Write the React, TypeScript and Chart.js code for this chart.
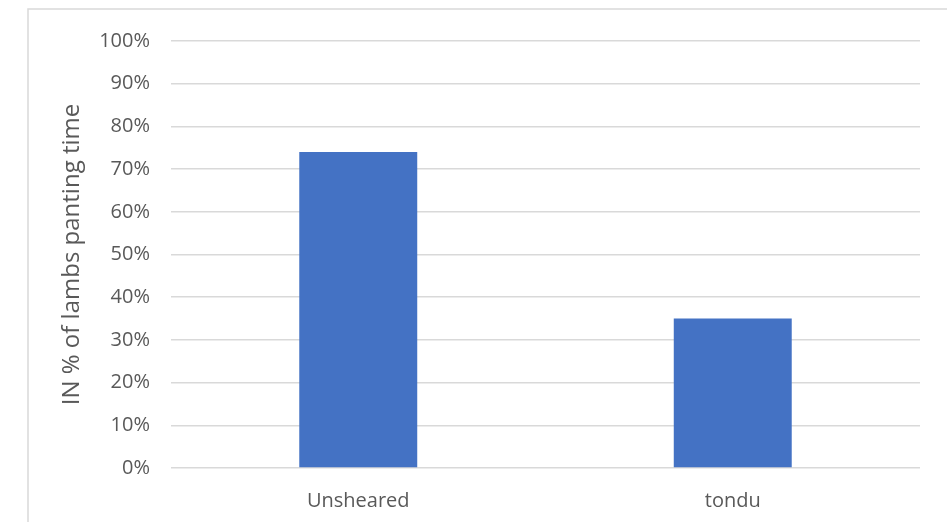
import React, { useEffect, useRef } from "react";
import { Chart, registerables } from "chart.js";

Chart.register(...registerables);

const categories = ["Unsheared", "tondu"];
const pantingShare = [74, 35];
const yTicks = [0, 10, 20, 30, 40, 50, 60, 70, 80, 90, 100];
const yTitle = "IN % of lambs panting time";

const FONT = "'Open Sans', 'Liberation Sans', sans-serif";
const TEXT = "#595959";
const GRID = "#d9d9d9";

// Light frame around the chart object (its right and bottom edges fall off the canvas)
const framePlugin = {
  id: "frame",
  beforeDraw(chart: Chart) {
    const { ctx } = chart;
    ctx.save();
    ctx.fillStyle = "#ffffff";
    ctx.fillRect(0, 0, chart.width, chart.height);
    ctx.strokeStyle = GRID;
    ctx.lineWidth = 1.5;
    ctx.beginPath();
    ctx.moveTo(28, chart.height + 5);
    ctx.lineTo(28, 9);
    ctx.lineTo(chart.width + 5, 9);
    ctx.stroke();
    ctx.restore();
  },
};

export default function App() {
  const canvasRef = useRef<HTMLCanvasElement | null>(null);

  useEffect(() => {
    if (!canvasRef.current) return;
    const chart = new Chart(canvasRef.current, {
      type: "bar",
      data: {
        labels: categories,
        datasets: [
          {
            data: pantingShare,
            backgroundColor: "#4472C4",
            borderWidth: 0,
            categoryPercentage: 1,
            barPercentage: 0.315,
          },
        ],
      },
      options: {
        animation: false,
        responsive: false,
        maintainAspectRatio: false,
        layout: { padding: { left: 0, right: 27, top: 41, bottom: 0 } },
        plugins: {
          legend: { display: false },
          tooltip: { enabled: false },
        },
        scales: {
          x: {
            grid: { display: false },
            border: { display: false },
            ticks: {
              color: TEXT,
              font: { family: FONT, size: 20 },
              padding: 13,
            },
            afterFit(scale: any) {
              scale.height = 54;
            },
          },
          y: {
            min: 0,
            max: 100,
            afterBuildTicks(scale: any) {
              scale.ticks = yTicks.map((v) => ({ value: v }));
            },
            grid: {
              color: GRID,
              lineWidth: 1.5,
              drawTicks: false,
            },
            border: { display: false },
            ticks: {
              color: TEXT,
              font: { family: FONT, size: 20 },
              padding: 21,
              callback: (v: any) => `${v}%`,
            },
            title: {
              display: true,
              text: yTitle,
              color: TEXT,
              font: { family: FONT, size: 24 },
              padding: { top: 58, bottom: 0 },
            },
            afterFit(scale: any) {
              scale.width = 171;
            },
          },
        },
      },
      plugins: [framePlugin],
    });
    return () => chart.destroy();
  }, []);

  return (
    <div style={{ position: "fixed", left: 0, top: 0, width: 947, height: 522, background: "#fff" }}>
      <canvas ref={canvasRef} width={947} height={522} style={{ display: "block" }} />
    </div>
  );
}
